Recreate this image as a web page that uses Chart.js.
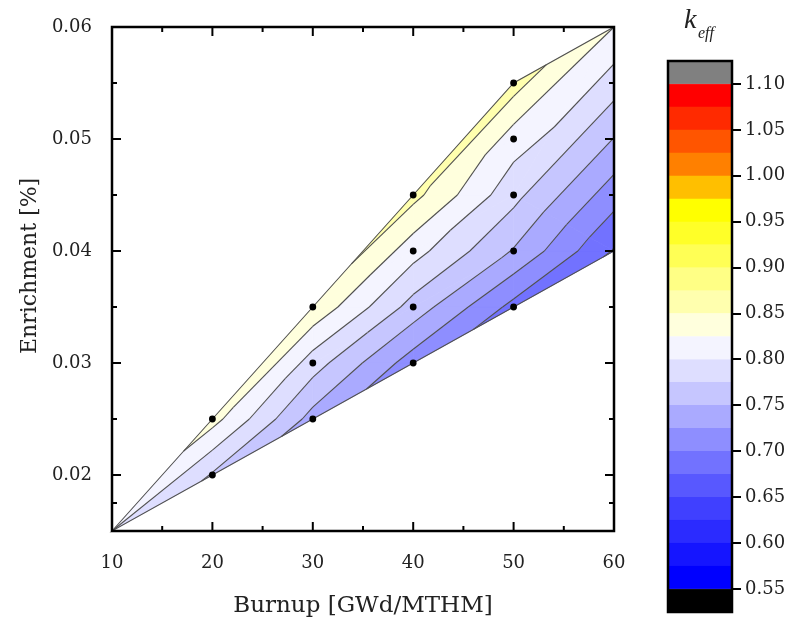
<!DOCTYPE html>
<html>
<head>
<meta charset="utf-8">
<script src="https://cdn.jsdelivr.net/npm/chart.js@4.4.1/dist/chart.umd.min.js"></script>
<style>
  body { margin: 0; background: #fff; width: 809px; height: 628px; position: relative; overflow: hidden; }
  #main { position: absolute; left: 0; top: 0; }
  #bar { position: absolute; left: 640px; top: 0; }
</style>
</head>
<body>
<canvas id="main" width="640" height="628"></canvas>
<canvas id="bar" width="169" height="628"></canvas>
<script>
// k_eff contour map: burnup vs enrichment
const burnup     = [10, 20, 20, 30, 30, 30, 40, 40, 40, 40, 50, 50, 50, 50, 50, 60, 60];
const enrichment = [0.015, 0.020, 0.025, 0.025, 0.030, 0.035, 0.030, 0.035, 0.040, 0.045, 0.035, 0.040, 0.045, 0.050, 0.055, 0.040, 0.060];
const keff       = [0.800, 0.772, 0.835, 0.740, 0.787, 0.845, 0.712, 0.765, 0.810, 0.858, 0.692, 0.748, 0.783, 0.812, 0.862, 0.673, 0.825];
// points shown as dots
const shownPoints = [1, 2, 3, 4, 5, 6, 7, 8, 9, 10, 11, 12, 13, 14];
// triangulation of the points and the outline
const triangles = [[0,1,2],[1,3,2],[2,3,4],[2,4,5],[3,6,4],[4,6,7],[4,7,5],[5,7,8],[5,8,9],
  [6,10,7],[7,10,11],[7,11,8],[8,11,12],[8,12,9],[9,12,13],[9,13,14],
  [10,15,11],[11,15,12],[12,15,16],[12,16,13],[13,16,14]];
const hull = [0, 2, 5, 9, 14, 16, 15, 10, 6, 3, 1];

const levels = [0.55, 0.575, 0.60, 0.625, 0.65, 0.675, 0.70, 0.725, 0.75, 0.775, 0.80, 0.825,
  0.85, 0.875, 0.90, 0.925, 0.95, 0.975, 1.00, 1.025, 1.05, 1.075, 1.10];
// below 0.55, each band, above 1.10
const bandColors = ['#000000',
  '#0000ff', '#1515ff', '#2b2bff', '#4040ff', '#5858ff', '#7272ff', '#8e8eff', '#aaaaff', '#c6c6ff', '#dedeff', '#f4f4ff',
  '#ffffdd', '#ffffae', '#ffff85', '#ffff55', '#ffff28', '#ffff00', '#ffbf00', '#ff8000', '#ff5500', '#ff2a00', '#ff0000',
  '#808080'];

const xTicks = [10, 20, 30, 40, 50, 60];
const yTicks = [0.02, 0.03, 0.04, 0.05, 0.06];
const cbTicks = [0.55, 0.60, 0.65, 0.70, 0.75, 0.80, 0.85, 0.90, 0.95, 1.00, 1.05, 1.10];
const cbMin = 0.525, cbMax = 1.125;

Chart.defaults.font.family = '"DejaVu Serif", serif';
Chart.defaults.color = '#222';

function clip(poly, level, keepAbove) {
  const out = [];
  for (let i = 0; i < poly.length; i++) {
    const a = poly[i], b = poly[(i + 1) % poly.length];
    const ina = keepAbove ? a.v >= level : a.v <= level;
    const inb = keepAbove ? b.v >= level : b.v <= level;
    if (ina) out.push(a);
    if (ina !== inb) {
      const t = (level - a.v) / (b.v - a.v);
      out.push({x: a.x + t * (b.x - a.x), y: a.y + t * (b.y - a.y), v: level});
    }
  }
  return out;
}

const contourPlugin = {
  id: 'contour',
  beforeDatasetsDraw(chart) {
    const {ctx, scales: {x, y}} = chart;
    const pts = burnup.map((b, i) => ({x: x.getPixelForValue(b), y: y.getPixelForValue(enrichment[i]), v: keff[i]}));
    ctx.save();
    // filled bands
    triangles.forEach(tri => {
      const poly = tri.map(i => pts[i]);
      for (let k = 0; k <= levels.length; k++) {
        let p = poly;
        if (k > 0) p = clip(p, levels[k - 1], true);
        if (k < levels.length) p = clip(p, levels[k], false);
        if (p.length < 3) continue;
        ctx.beginPath();
        p.forEach((q, j) => j ? ctx.lineTo(q.x, q.y) : ctx.moveTo(q.x, q.y));
        ctx.closePath();
        ctx.fillStyle = ctx.strokeStyle = bandColors[k];
        ctx.lineWidth = 0.8;
        ctx.fill();
        ctx.stroke();
      }
    });
    // contour lines
    ctx.strokeStyle = '#505050';
    ctx.lineWidth = 1.1;
    triangles.forEach(tri => {
      levels.forEach(lv => {
        const seg = [];
        for (let e = 0; e < 3; e++) {
          const a = pts[tri[e]], b = pts[tri[(e + 1) % 3]];
          if ((a.v - lv) * (b.v - lv) < 0) {
            const t = (lv - a.v) / (b.v - a.v);
            seg.push([a.x + t * (b.x - a.x), a.y + t * (b.y - a.y)]);
          } else if (a.v === lv) seg.push([a.x, a.y]);
        }
        if (seg.length >= 2) {
          ctx.beginPath();
          ctx.moveTo(seg[0][0], seg[0][1]);
          ctx.lineTo(seg[1][0], seg[1][1]);
          ctx.stroke();
        }
      });
    });
    // outline of data region
    ctx.beginPath();
    hull.forEach((i, j) => j ? ctx.lineTo(pts[i].x, pts[i].y) : ctx.moveTo(pts[i].x, pts[i].y));
    ctx.closePath();
    ctx.stroke();
    ctx.restore();
  }
};

// frame with inward ticks on all sides, and the y title
const framePlugin = {
  id: 'frame',
  afterDraw(chart) {
    const {ctx, chartArea: a, scales: {x, y}} = chart;
    ctx.save();
    ctx.strokeStyle = '#000';
    ctx.lineWidth = 2;
    const tick = (x1, y1, x2, y2) => { ctx.beginPath(); ctx.moveTo(x1, y1); ctx.lineTo(x2, y2); ctx.stroke(); };
    xTicks.forEach((v, i) => {
      const px = x.getPixelForValue(v);
      tick(px, a.bottom, px, a.bottom - 9);
      tick(px, a.top, px, a.top + 9);
      if (i < xTicks.length - 1) {
        const mx = x.getPixelForValue((v + xTicks[i + 1]) / 2);
        tick(mx, a.bottom, mx, a.bottom - 5);
        tick(mx, a.top, mx, a.top + 5);
      }
    });
    const yAll = [0.015].concat(yTicks);
    yAll.forEach((v, i) => {
      const py = y.getPixelForValue(v);
      if (i > 0) {
        tick(a.left, py, a.left + 9, py);
        tick(a.right, py, a.right - 9, py);
      }
      if (i < yAll.length - 1) {
        const my = y.getPixelForValue((v + yAll[i + 1]) / 2);
        tick(a.left, my, a.left + 5, my);
        tick(a.right, my, a.right - 5, my);
      }
    });
    ctx.lineWidth = 2.5;
    ctx.strokeRect(a.left, a.top, a.right - a.left, a.bottom - a.top);

    ctx.translate(30, 266);
    ctx.rotate(-Math.PI / 2);
    ctx.fillStyle = '#222';
    ctx.font = '22px "DejaVu Serif", serif';
    ctx.textAlign = 'center';
    ctx.textBaseline = 'middle';
    ctx.fillText('Enrichment [%]', 0, 0);
    ctx.restore();
  }
};

new Chart(document.getElementById('main'), {
  type: 'scatter',
  data: {
    datasets: [{
      data: shownPoints.map(i => ({x: burnup[i], y: enrichment[i]})),
      pointRadius: 3.4,
      backgroundColor: '#000',
      borderWidth: 0
    }]
  },
  options: {
    responsive: false,
    animation: false,
    layout: { padding: { top: 27, right: 26 } },
    plugins: { legend: { display: false }, tooltip: { enabled: false } },
    scales: {
      x: {
        min: 10, max: 60,
        afterBuildTicks: s => { s.ticks = xTicks.map(v => ({value: v})); },
        afterFit: s => { s.height = 97; s.paddingLeft = 0; s.paddingRight = 0; },
        grid: { display: false, drawTicks: false },
        border: { display: false },
        ticks: { font: { size: 18 }, padding: 22, maxRotation: 0 },
        title: { display: true, text: 'Burnup [GWd/MTHM]', font: { size: 23 }, padding: { top: 0, bottom: 8 } }
      },
      y: {
        min: 0.015, max: 0.06,
        afterBuildTicks: s => { s.ticks = yTicks.map(v => ({value: v})); },
        afterFit: s => { s.width = 112; s.paddingTop = 0; s.paddingBottom = 0; },
        grid: { display: false, drawTicks: false },
        border: { display: false },
        ticks: { font: { size: 18 }, padding: 20, callback: v => v.toFixed(2) }
      }
    }
  },
  plugins: [contourPlugin, framePlugin]
});

// colour bar
const cbPlugin = {
  id: 'cbframe',
  afterDraw(chart) {
    const {ctx, chartArea: a} = chart;
    ctx.save();
    ctx.strokeStyle = '#000';
    ctx.lineWidth = 2.5;
    ctx.strokeRect(a.left, a.top, a.right - a.left, a.bottom - a.top);
    ctx.fillStyle = '#222';
    ctx.font = 'italic 28px "Liberation Serif", serif';
    ctx.fillText('k', 44, 28);
    ctx.font = 'italic 16px "Liberation Serif", serif';
    ctx.fillText('eff', 58, 38);
    ctx.restore();
  }
};

new Chart(document.getElementById('bar'), {
  type: 'bar',
  data: {
    labels: ['k'],
    datasets: bandColors.map((c, k) => ({
      data: [[k === 0 ? cbMin : levels[k - 1], k === levels.length ? cbMax : levels[k]]],
      backgroundColor: c,
      borderColor: c,
      borderWidth: 0.5,
      borderSkipped: false,
      barPercentage: 1,
      categoryPercentage: 1,
      grouped: false
    }))
  },
  options: {
    responsive: false,
    animation: false,
    layout: { padding: { left: 28, top: 61, bottom: 16 } },
    plugins: { legend: { display: false }, tooltip: { enabled: false } },
    scales: {
      x: { display: false },
      y: {
        position: 'right',
        min: cbMin, max: cbMax,
        afterBuildTicks: s => { s.ticks = cbTicks.map(v => ({value: v})); },
        afterFit: s => { s.width = 77; },
        grid: { drawOnChartArea: false, tickLength: 9, color: '#000', lineWidth: 2 },
        border: { display: true, color: '#000', width: 2 },
        ticks: { font: { size: 18 }, padding: 4, callback: v => v.toFixed(2) }
      }
    }
  },
  plugins: [cbPlugin]
});
</script>
</body>
</html>
